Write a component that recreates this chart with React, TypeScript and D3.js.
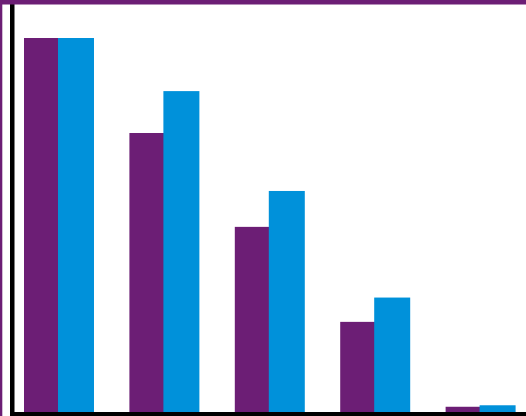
import React from "react";
import * as d3 from "d3";

const categories = ["A", "B", "C", "D", "E"];
const seriesNames = ["Series 1", "Series 2"];
const series1 = [100, 74.6, 49.5, 24.1, 1.4];
const series2 = [100, 85.8, 59.1, 30.6, 1.8];
const colors = ["#6c1e75", "#0091da"];

const W = 526;
const H = 416;
const BAR_W = 36;

export default function App() {
  const x = d3
    .scaleBand<string>()
    .domain(categories)
    .range([24, 515.6])
    .paddingInner(0.336)
    .paddingOuter(0);
  const xs = d3.scalePoint<string>().domain(seriesNames).range([0, x.bandwidth() - BAR_W]);
  const y = d3.scaleLinear().domain([0, 100]).range([412, 38]);
  const data = [series1, series2];

  return (
    <svg
      width={W}
      height={H}
      style={{ position: "absolute", left: 0, top: 0, display: "block" }}
    >
      <rect x={0} y={0} width={W} height={H} fill="#ffffff" />
      {data.map((vals, si) =>
        vals.map((v, i) => (
          <rect
            key={`${si}-${i}`}
            x={(x(categories[i]) ?? 0) + (xs(seriesNames[si]) ?? 0)}
            y={y(v)}
            width={BAR_W}
            height={y(0) - y(v)}
            fill={colors[si]}
          />
        ))
      )}
      {/* axes */}
      <rect x={10} y={4} width={4.5} height={H - 4} fill="#000" />
      <rect x={10} y={y(0)} width={W - 10} height={H - y(0)} fill="#000" />
      {/* frame */}
      <rect x={0} y={0} width={W} height={4.5} fill={colors[0]} />
      <rect x={0} y={0} width={2.3} height={H} fill={colors[0]} />
    </svg>
  );
}
